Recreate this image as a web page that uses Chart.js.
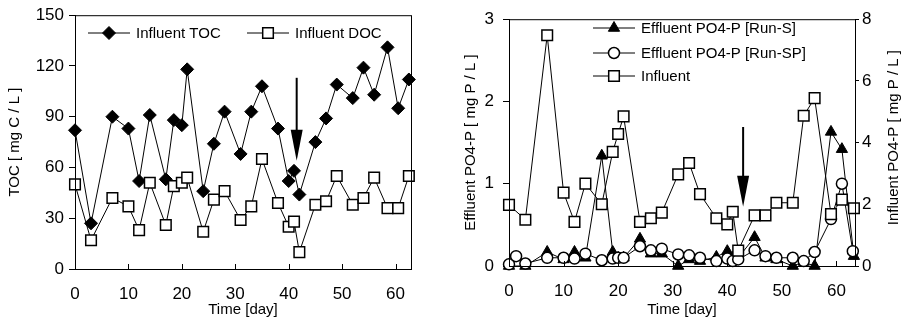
<!DOCTYPE html>
<html>
<head>
<meta charset="utf-8">
<title>TOC and PO4-P</title>
<script src="https://cdn.jsdelivr.net/npm/chart.js@4.4.0/dist/chart.umd.min.js"></script>
<style>
  body { margin: 0; background: #fff; }
  .box { position: absolute; top: 0; height: 322px; }
  #box1 { left: 0; width: 440px; }
  #box2 { left: 450px; width: 453px; }
</style>
</head>
<body>
<div class="box" id="box1"><canvas id="tocChart"></canvas></div>
<div class="box" id="box2"><canvas id="po4Chart"></canvas></div>
<script>
// ---- data ----
// left chart: influent TOC / DOC
var tocDays = [0, 3, 7, 10, 12, 14, 17, 18.5, 20, 21, 24, 26, 28, 31, 33, 35, 38, 40, 41, 42, 45, 47, 49, 52, 54, 56, 58.5, 60.5, 62.5];
var influentToc = [82, 27, 90, 83, 52, 91, 53, 88, 85, 118, 46, 74, 93, 68, 93, 108, 83, 52, 58, 44, 75, 89, 109, 101, 119, 103, 131, 95, 112];
var influentDoc = [50, 17, 42, 37, 23, 51, 26, 49, 51, 54, 22, 41, 46, 29, 37, 65, 39, 25, 28, 10, 38, 40, 55, 38, 42, 54, 36, 36, 55];

// right chart: PO4-P
var po4Days = [0, 3, 7, 10, 12, 14, 17, 19, 20, 21, 24, 26, 28, 31, 33, 35, 38, 40, 41, 42, 45, 47, 49, 52, 54, 56, 59, 61, 63.2];
var effluentRunS = [0, 0, 0.17, 0.08, 0.17, 0.1, 1.34, 0.17, 0.1, 0.1, 0.33, 0.15, 0.15, 0, 0.08, 0.06, 0.11, 0.18, 0.1, 0.1, 0.35, 0.1, 0.08, 0, 0.05, 0, 1.63, 1.42, 0.12];
var influentPo4 = [1.98, 1.5, 7.48, 2.38, 1.43, 2.67, 2.0, 3.7, 4.28, 4.85, 1.43, 1.55, 1.73, 2.97, 3.34, 2.33, 1.55, 1.35, 1.76, 0.5, 1.64, 1.64, 2.05, 2.05, 4.87, 5.44, 1.68, 2.15, 1.87];
var spDays = [0, 1.3, 3, 7, 10, 12, 14, 17, 19, 20, 21, 24, 26, 28, 31, 33, 35, 38, 40, 41, 42, 45, 47, 49, 52, 54, 56, 59, 61, 63];
var effluentRunSP = [0.02, 0.12, 0.03, 0.1, 0.1, 0.09, 0.15, 0.07, 0.09, 0.1, 0.1, 0.24, 0.19, 0.21, 0.14, 0.13, 0.1, 0.06, 0.09, 0.06, 0.08, 0.19, 0.12, 0.1, 0.1, 0.06, 0.17, 0.57, 1.0, 0.18];

// tick labels
var dayTicks = [0, 10, 20, 30, 40, 50, 60];
var tocTicks = [0, 30, 60, 90, 120, 150];
var effTicks = [0, 1, 2, 3];
var infTicks = [0, 2, 4, 6, 8];

// arrows marking the change of operation (day, from, to)
var tocArrow = [41.5, 113, 64];
var po4Arrow = [42.9, 1.69, 0.72];

Chart.defaults.font.family = "'Liberation Sans', Arial, sans-serif";
Chart.defaults.color = "#000";

function toPoints(xs, ys) {
  return xs.map(function (x, i) { return { x: x, y: ys[i] }; });
}
function fixedTicks(list) {
  return function (axis) {
    axis.ticks = list.map(function (v) { return { value: v }; });
  };
}

// black frame round the plot area + small inside ticks on the time axis
var framePlugin = {
  id: "frame",
  afterDraw: function (chart) {
    var a = chart.chartArea, ctx = chart.ctx, x = chart.scales.x;
    ctx.save();
    ctx.strokeStyle = "#000";
    ctx.lineWidth = 1;
    ctx.strokeRect(a.left + 0.5, a.top + 0.5, a.right - a.left, a.bottom - a.top);
    ctx.beginPath();
    x.ticks.forEach(function (t) {
      var px = Math.round(x.getPixelForValue(t.value)) + 0.5;
      ctx.moveTo(px, a.bottom);
      ctx.lineTo(px, a.bottom - 5);
    });
    ctx.stroke();
    ctx.restore();
  }
};

// down arrow annotation
var arrowPlugin = {
  id: "arrow",
  afterDatasetsDraw: function (chart, args, opts) {
    if (!opts.at) return;
    var ctx = chart.ctx, y = chart.scales.y;
    var px = chart.scales.x.getPixelForValue(opts.at[0]);
    var top = y.getPixelForValue(opts.at[1]);
    var tip = y.getPixelForValue(opts.at[2]);
    ctx.save();
    ctx.strokeStyle = "#000";
    ctx.fillStyle = "#000";
    ctx.lineWidth = 2;
    ctx.beginPath();
    ctx.moveTo(px, top);
    ctx.lineTo(px, tip - 20);
    ctx.stroke();
    ctx.beginPath();
    ctx.moveTo(px - 6, tip - 31);
    ctx.lineTo(px + 6, tip - 31);
    ctx.lineTo(px, tip);
    ctx.closePath();
    ctx.fill();
    ctx.restore();
  }
};

// legend drawn as line + marker, like the original
var lineLegendPlugin = {
  id: "lineLegend",
  afterDraw: function (chart, args, opts) {
    if (!opts.spots) return;
    var ctx = chart.ctx;
    ctx.save();
    chart.data.datasets.forEach(function (ds, i) {
      var s = opts.spots[i];
      ctx.strokeStyle = "#000";
      ctx.lineWidth = 1;
      ctx.beginPath();
      ctx.moveTo(s.x, s.y);
      ctx.lineTo(s.x + 42, s.y);
      ctx.stroke();
      ctx.fillStyle = ds.pointBackgroundColor;
      ctx.lineWidth = ds.pointBorderWidth;
      Chart.helpers.drawPoint(ctx, {
        pointStyle: ds.pointStyle, radius: ds.pointRadius, rotation: 0, borderWidth: ds.pointBorderWidth
      }, s.x + 21, s.y);
      ctx.fillStyle = "#000";
      ctx.font = "15px 'Liberation Sans', Arial, sans-serif";
      ctx.textBaseline = "middle";
      ctx.fillText(ds.label, s.x + 48, s.y + 1);
    });
    ctx.restore();
  }
};

var tickFont = { size: 17 };
var titleFont = { size: 15 };

// ---- left chart ----
var tocCtx = document.getElementById("tocChart").getContext("2d");
var tocChart = new Chart(tocCtx, {
  type: "line",
  data: {
    datasets: [
      {
        label: "Influent TOC",
        data: toPoints(tocDays, influentToc),
        borderColor: "#000", borderWidth: 1,
        pointStyle: "rectRot", pointRadius: 6.5,
        pointBackgroundColor: "#000", pointBorderColor: "#000", pointBorderWidth: 1,
        clip: false, order: 1
      },
      {
        label: "Influent DOC",
        data: toPoints(tocDays, influentDoc),
        borderColor: "#000", borderWidth: 1,
        pointStyle: "rect", pointRadius: 7.5,
        pointBackgroundColor: "#fff", pointBorderColor: "#000", pointBorderWidth: 1.5,
        clip: false, order: 0
      }
    ]
  },
  options: {
    responsive: true, maintainAspectRatio: false, animation: false, devicePixelRatio: 1,
    layout: { padding: { top: 12, right: 29, left: 0, bottom: 0 } },
    plugins: {
      legend: { display: false }, tooltip: { enabled: false },
      arrow: { at: tocArrow },
      lineLegend: { spots: [{ x: 88, y: 33 }, { x: 247, y: 33 }] }
    },
    scales: {
      x: {
        type: "linear", min: 0, max: 62.9,
        afterBuildTicks: fixedTicks(dayTicks),
        afterFit: function (s) { s.height = 53; },
        grid: { drawOnChartArea: false, drawTicks: false },
        border: { color: "#000" },
        ticks: { font: tickFont, padding: 15, maxRotation: 0 },
        title: { display: true, text: "Time [day]", font: titleFont, padding: { top: 0, bottom: 3 } }
      },
      y: {
        min: 0, max: 150,
        afterBuildTicks: fixedTicks(tocTicks),
        afterFit: function (s) { s.width = 75; },
        grid: { drawOnChartArea: false, tickLength: 6, color: "#000" },
        border: { color: "#000" },
        ticks: { font: tickFont, padding: 5 },
        title: { display: true, text: "TOC [ mg C / L ]", font: titleFont, padding: { top: 6, bottom: 0 } }
      }
    }
  },
  plugins: [framePlugin, arrowPlugin, lineLegendPlugin]
});

// ---- right chart ----
var rightTitlePlugin = {
  id: "rightTitle",
  afterDraw: function (chart) {
    var ctx = chart.ctx, a = chart.chartArea;
    ctx.save();
    ctx.translate(chart.width - 9, (a.top + a.bottom) / 2 - 5);
    ctx.rotate(-Math.PI / 2);
    ctx.font = "15px 'Liberation Sans', Arial, sans-serif";
    ctx.fillStyle = "#000";
    ctx.textAlign = "center";
    ctx.textBaseline = "middle";
    ctx.fillText("Influent PO4-P [ mg P / L ]", 0, 0);
    ctx.restore();
  }
};

var po4Ctx = document.getElementById("po4Chart").getContext("2d");
var po4Chart = new Chart(po4Ctx, {
  type: "line",
  data: {
    datasets: [
      {
        label: "Effluent PO4-P [Run-S]",
        data: toPoints(po4Days, effluentRunS),
        yAxisID: "y",
        borderColor: "#000", borderWidth: 1,
        pointStyle: "triangle", pointRadius: 6.5,
        pointBackgroundColor: "#000", pointBorderColor: "#000", pointBorderWidth: 1,
        clip: false, order: 2
      },
      {
        label: "Effluent PO4-P [Run-SP]",
        data: toPoints(spDays, effluentRunSP),
        yAxisID: "y",
        borderColor: "#000", borderWidth: 1,
        pointStyle: "circle", pointRadius: 5.5,
        pointBackgroundColor: "#fff", pointBorderColor: "#000", pointBorderWidth: 1.5,
        clip: false, order: 1
      },
      {
        label: "Influent",
        data: toPoints(po4Days, influentPo4),
        yAxisID: "y2",
        borderColor: "#000", borderWidth: 1,
        pointStyle: "rect", pointRadius: 7.5,
        pointBackgroundColor: "#fff", pointBorderColor: "#000", pointBorderWidth: 1.5,
        clip: false, order: 0
      }
    ]
  },
  options: {
    responsive: true, maintainAspectRatio: false, animation: false, devicePixelRatio: 1,
    layout: { padding: { top: 9, right: 0, left: 0, bottom: 0 } },
    plugins: {
      legend: { display: false }, tooltip: { enabled: false },
      arrow: { at: po4Arrow },
      lineLegend: { spots: [{ x: 143, y: 28 }, { x: 143, y: 53 }, { x: 143, y: 76 }] }
    },
    scales: {
      x: {
        type: "linear", min: 0, max: 63.4,
        afterBuildTicks: fixedTicks(dayTicks),
        afterFit: function (s) { s.height = 56; },
        grid: { drawOnChartArea: false, drawTicks: false },
        border: { color: "#000" },
        ticks: { font: tickFont, padding: 15, maxRotation: 0 },
        title: { display: true, text: "Time [day]", font: titleFont, padding: { top: 0, bottom: 3 } }
      },
      y: {
        position: "left", min: 0, max: 3,
        afterBuildTicks: fixedTicks(effTicks),
        afterFit: function (s) { s.width = 59; },
        grid: { drawOnChartArea: false, tickLength: 6, color: "#000" },
        border: { color: "#000" },
        ticks: { font: tickFont, padding: 9 },
        title: { display: true, text: "Effluent PO4-P [ mg P / L ]", font: titleFont, padding: { top: 12, bottom: 0 } }
      },
      y2: {
        position: "right", min: 0, max: 8,
        afterBuildTicks: fixedTicks(infTicks),
        afterFit: function (s) { s.width = 48; },
        grid: { drawOnChartArea: false, tickLength: 4, color: "#000" },
        border: { color: "#000" },
        ticks: { font: tickFont, padding: 3 }
      }
    }
  },
  plugins: [framePlugin, arrowPlugin, lineLegendPlugin, rightTitlePlugin]
});
</script>
</body>
</html>
